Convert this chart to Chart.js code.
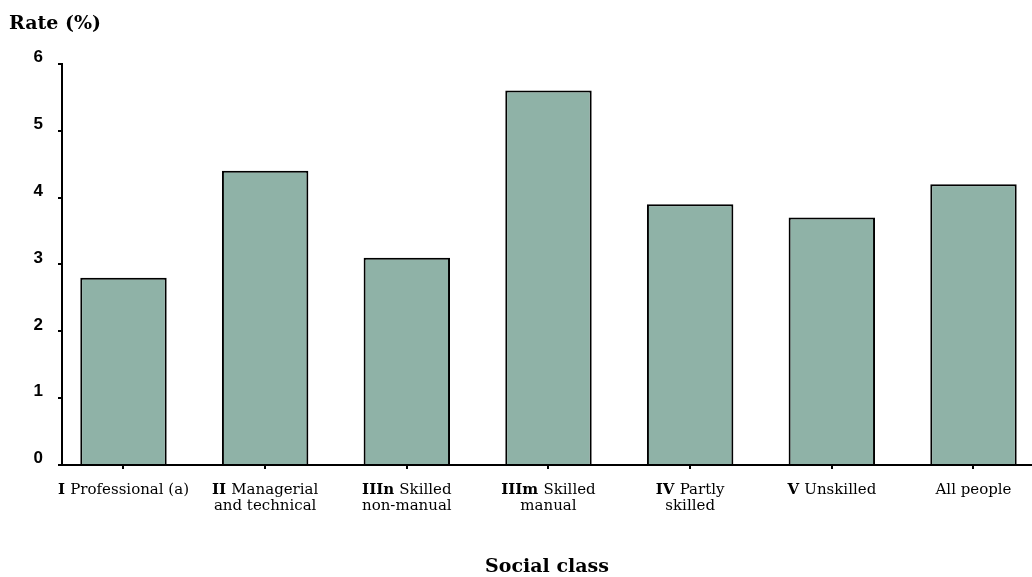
<!DOCTYPE html>
<html>
<head>
<meta charset="utf-8">
<script src="https://cdn.jsdelivr.net/npm/chart.js@4/dist/chart.umd.min.js"></script>
<style>
  html, body { margin: 0; padding: 0; background: #fff; overflow: hidden; }
  #wrap { width: 1032px; height: 577px; }
</style>
</head>
<body>
<div id="wrap"><canvas id="chart"></canvas></div>
<script>
// social class categories (bold prefix + text, second line)
const classCodes = ['I', 'II', 'IIIn', 'IIIm', 'IV', 'V', ''];
const classLine1 = ['Professional (a)', 'Managerial', 'Skilled', 'Skilled', 'Partly', 'Unskilled', 'All people'];
const classLine2 = ['', 'and technical', 'non-manual', 'manual', 'skilled', '', ''];
const rates = [2.8, 4.4, 3.1, 5.6, 3.9, 3.7, 4.2];
const yTicks = [0, 1, 2, 3, 4, 5, 6];

const serif = '"DejaVu Serif", "Liberation Serif", serif';

// draws the two-line x labels with a bold class code
const classLabels = {
    id: 'classLabels',
    afterDraw(chart) {
        const ctx = chart.ctx;
        const x = chart.scales.x;
        ctx.save();
        ctx.fillStyle = '#000';
        ctx.textBaseline = 'alphabetic';
        classLine1.forEach((txt, i) => {
            const cx = x.getPixelForValue(i);
            const y1 = x.top + 29;
            const bold = '600 15px ' + serif;
            const norm = '15px ' + serif;
            const code = classCodes[i] ? classCodes[i] + ' ' : '';
            ctx.font = bold;
            const wCode = ctx.measureText(code).width;
            ctx.font = norm;
            const wTxt = ctx.measureText(txt).width;
            let sx = cx - (wCode + wTxt) / 2;
            ctx.textAlign = 'left';
            ctx.font = bold;
            ctx.fillText(code, sx, y1);
            ctx.font = norm;
            ctx.fillText(txt, sx + wCode, y1);
            if (classLine2[i]) {
                ctx.textAlign = 'center';
                ctx.fillText(classLine2[i], cx, y1 + 16);
            }
        });
        ctx.restore();
    }
};

new Chart(document.getElementById('chart'), {
    type: 'bar',
    data: {
        datasets: [{
            label: 'Rate (%)',
            data: rates.map((v, i) => ({ x: i, y: v })),
            backgroundColor: '#8fb2a7',
            borderColor: '#000',
            borderWidth: 2,
            categoryPercentage: 0.61,
            barPercentage: 1
        }]
    },
    options: {
        responsive: true,
        maintainAspectRatio: false,
        animation: false,
        layout: { padding: { left: 9, right: 0, top: 0, bottom: 0 } },
        plugins: {
            legend: { display: false },
            tooltip: { enabled: false },
            title: {
                display: true,
                text: 'Rate (%)',
                align: 'start',
                color: '#000',
                font: { family: serif, size: 19, weight: 'bold' },
                padding: { top: 13, bottom: 28 }
            }
        },
        scales: {
            x: {
                type: 'linear',
                offset: false,
                min: -0.434,
                max: 6.413,
                afterBuildTicks: s => { s.ticks = classLine1.map((_, i) => ({ value: i })); },
                ticks: { display: false },
                grid: { offset: false, drawOnChartArea: false, tickLength: 4, color: '#000', lineWidth: 2 },
                border: { color: '#000', width: 2 },
                title: {
                    display: true,
                    text: 'Social class',
                    color: '#000',
                    font: { family: serif, size: 19, weight: 'bold', lineHeight: 1.05 },
                    padding: { top: 88, bottom: 0 }
                }
            },
            y: {
                min: 0,
                max: 6,
                afterBuildTicks: s => { s.ticks = yTicks.map(v => ({ value: v })); },
                afterFit: s => { s.width = 53; },
                ticks: {
                    color: '#000',
                    padding: 15,
                    font: { family: '"Liberation Sans", Arial, sans-serif', size: 17, weight: 'bold', lineHeight: 0.75 },
                    callback: v => [String(v), '']
                },
                grid: { drawOnChartArea: false, tickLength: 4, color: '#000', lineWidth: 2 },
                border: { color: '#000', width: 2 }
            }
        }
    },
    plugins: [classLabels]
});
</script>
</body>
</html>
